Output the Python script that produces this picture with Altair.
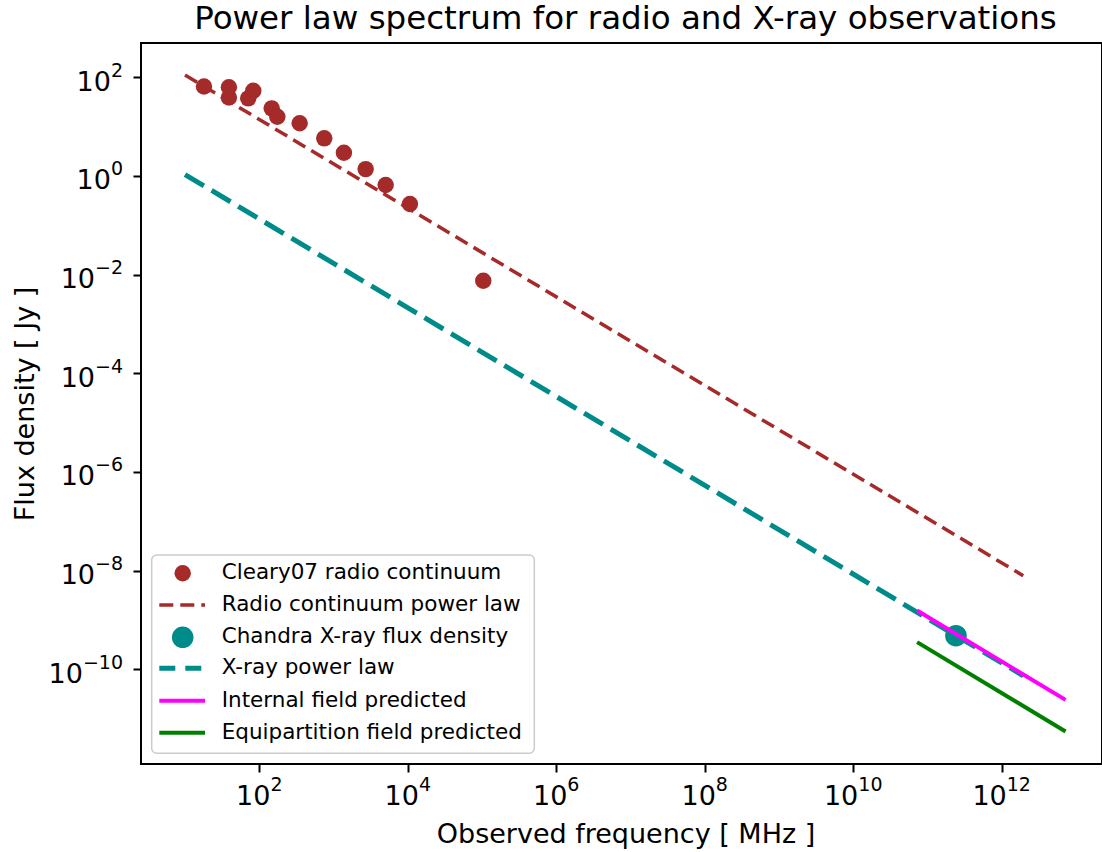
import altair as alt
import pandas as pd

# ---- data ----
radio_freq = [18, 39, 39, 83, 71, 147, 175, 350, 750, 1380, 2710, 5040, 10700, 104000]
radio_flux = [65, 63, 39, 53.5, 37.5, 23.5, 15.9, 11.7, 5.8, 2.96, 1.38, 0.656, 0.270, 0.0075]

radio_law_freq = [10, 1.95e12]
radio_law_flux = [111, 7.9e-9]

xray_law_freq = [10, 1.95e12]
xray_law_flux = [1.07, 7.4e-11]

band_freq = [7.25e10, 7.25e12]
internal_flux = [1.55e-9, 2.4e-11]
equip_flux = [3.55e-10, 5.5e-12]

chandra_freq = [2.42e11]
chandra_flux = [4.8e-10]

x_tick_exps = [2, 4, 6, 8, 10, 12]
y_tick_exps = [2, 0, -2, -4, -6, -8, -10]

title_text = "Power law spectrum for radio and X-ray observations"
x_title = "Observed frequency [ MHz ]"
y_title = "Flux density [ Jy ]"
legend_labels = [
    "Cleary07 radio continuum",
    "Radio continuum power law",
    "Chandra X-ray flux density",
    "X-ray power law",
    "Internal field predicted",
    "Equipartition field predicted",
]

FONT = "DejaVu Sans"
BROWN = "#a52a2a"
TEAL = "#008b8b"
MAGENTA = "#ff00ff"
GREEN = "#008000"

W, H = 961, 721
X_DOM = [10 ** 0.407, 10 ** 13.351]
Y_DOM = [10 ** -11.92, 10 ** 2.696]

BASE_FS = 27
EXP_FS = 19
BASE_W = 1.272 * BASE_FS          # advance of "10"
DIGIT_W = 0.636 * EXP_FS
MINUS_W = 0.838 * EXP_FS


def exp_str(e):
    return str(e).replace("-", "\u2212")


def exp_width(e):
    s = str(abs(e))
    return len(s) * DIGIT_W + (MINUS_W if e < 0 else 0)


xscale = alt.Scale(type="log", domain=X_DOM, nice=False)
yscale = alt.Scale(type="log", domain=Y_DOM, nice=False)

xaxis = alt.Axis(
    values=[10.0 ** e for e in x_tick_exps],
    labels=False,
    title=x_title,
    titleX=625.5 - 141,
    titleY=842 - 764,
    titleBaseline="alphabetic",
    titleAnchor="middle",
)
yaxis = alt.Axis(
    values=[10.0 ** e for e in y_tick_exps],
    labels=False,
    title=y_title,
    titleX=33 - 141,
    titleY=403.5 - 43,
    titleBaseline="alphabetic",
    titleAngle=270,
)

radio_df = pd.DataFrame({"freq": radio_freq, "flux": radio_flux})
radio_law_df = pd.DataFrame({"freq": radio_law_freq, "flux": radio_law_flux})
xray_law_df = pd.DataFrame({"freq": xray_law_freq, "flux": xray_law_flux})
internal_df = pd.DataFrame({"freq": band_freq, "flux": internal_flux})
equip_df = pd.DataFrame({"freq": band_freq, "flux": equip_flux})
chandra_df = pd.DataFrame({"freq": chandra_freq, "flux": chandra_flux})

enc = dict(
    x=alt.X("freq:Q", scale=xscale, axis=xaxis),
    y=alt.Y("flux:Q", scale=yscale, axis=yaxis),
)

radio_pts = alt.Chart(radio_df).mark_circle(size=270, color=BROWN, opacity=1).encode(**enc)
chandra_pt = alt.Chart(chandra_df).mark_circle(size=466, color=TEAL, opacity=1).encode(**enc)
radio_line = alt.Chart(radio_law_df).mark_line(
    color=BROWN, strokeWidth=3.5, strokeDash=[14, 7], strokeCap="butt"
).encode(**enc)
xray_line = alt.Chart(xray_law_df).mark_line(
    color=TEAL, strokeWidth=5, strokeDash=[22, 9], strokeCap="butt"
).encode(**enc)
internal_line = alt.Chart(internal_df).mark_line(color=MAGENTA, strokeWidth=4).encode(**enc)
equip_line = alt.Chart(equip_df).mark_line(color=GREEN, strokeWidth=4).encode(**enc)

# ---- tick labels "10" + raised exponent (matplotlib mathtext look) ----
tick_layers = []
for grp in sorted({len(str(e)) for e in x_tick_exps}):
    exps = [e for e in x_tick_exps if len(str(e)) == grp]
    df = pd.DataFrame({
        "freq": [10.0 ** e for e in exps],
        "base": ["10"] * len(exps),
        "exp": [exp_str(e) for e in exps],
    })
    ew = exp_width(exps[0])
    shift = (BASE_W - ew) / 2.0
    tick_layers.append(
        alt.Chart(df).mark_text(
            align="right", baseline="alphabetic", font=FONT, fontSize=BASE_FS,
            color="black", dx=shift
        ).encode(x=alt.X("freq:Q", scale=xscale, axis=xaxis), y=alt.value(762), text="base:N")
    )
    tick_layers.append(
        alt.Chart(df).mark_text(
            align="left", baseline="alphabetic", font=FONT, fontSize=EXP_FS,
            color="black", dx=shift
        ).encode(x=alt.X("freq:Q", scale=xscale, axis=xaxis), y=alt.value(748), text="exp:N")
    )

for key in sorted({len(exp_str(e)) for e in y_tick_exps}):
    exps = [e for e in y_tick_exps if len(exp_str(e)) == key]
    df = pd.DataFrame({
        "flux": [10.0 ** e for e in exps],
        "base": ["10"] * len(exps),
        "exp": [exp_str(e) for e in exps],
    })
    ew = exp_width(exps[0])
    tick_layers.append(
        alt.Chart(df).mark_text(
            align="right", baseline="alphabetic", font=FONT, fontSize=BASE_FS,
            color="black", dy=13.5
        ).encode(x=alt.value(-18 - ew), y=alt.Y("flux:Q", scale=yscale, axis=yaxis), text="base:N")
    )
    tick_layers.append(
        alt.Chart(df).mark_text(
            align="right", baseline="alphabetic", font=FONT, fontSize=EXP_FS,
            color="black", dy=-0.5
        ).encode(x=alt.value(-18), y=alt.Y("flux:Q", scale=yscale, axis=yaxis), text="exp:N")
    )

# ---- title as a text mark (pixel position relative to the plot area) ----
title_layer = alt.Chart(pd.DataFrame({"t": [title_text]})).mark_text(
    align="center", baseline="alphabetic", font=FONT, fontSize=32.5, color="black"
).encode(x=alt.value(625.5 - 141), y=alt.value(28.5 - 43), text="t:N")

# ---- manual legend (pixel positions inside the plot area) ----
row_y = [530.3, 562.0, 594.3, 625.3, 657.7, 689.7]
one = pd.DataFrame({"k": [0]})

legend_layers = [
    alt.Chart(one).mark_rect(
        fill="white", fillOpacity=0.8, stroke="#cccccc", strokeWidth=1.5, cornerRadius=5
    ).encode(x=alt.value(10.7), x2=alt.value(393.3), y=alt.value(512), y2=alt.value(710.3)),
    alt.Chart(one).mark_circle(size=270, color=BROWN, opacity=1).encode(
        x=alt.value(41.7), y=alt.value(row_y[0])
    ),
    alt.Chart(one).mark_rule(color=BROWN, strokeWidth=3.5, strokeDash=[14, 7]).encode(
        x=alt.value(18.3), x2=alt.value(64), y=alt.value(row_y[1])
    ),
    alt.Chart(one).mark_circle(size=466, color=TEAL, opacity=1).encode(
        x=alt.value(41.7), y=alt.value(row_y[2])
    ),
    alt.Chart(one).mark_rule(color=TEAL, strokeWidth=5, strokeDash=[16, 10]).encode(
        x=alt.value(18.3), x2=alt.value(64), y=alt.value(row_y[3])
    ),
    alt.Chart(one).mark_rule(color=MAGENTA, strokeWidth=4).encode(
        x=alt.value(18.3), x2=alt.value(64), y=alt.value(row_y[4])
    ),
    alt.Chart(one).mark_rule(color=GREEN, strokeWidth=4).encode(
        x=alt.value(18.3), x2=alt.value(64), y=alt.value(row_y[5])
    ),
]
for lab, yy in zip(legend_labels, row_y):
    legend_layers.append(
        alt.Chart(pd.DataFrame({"label": [lab]})).mark_text(
            align="left", baseline="middle", font=FONT, fontSize=21.5, color="black"
        ).encode(x=alt.value(80.7), y=alt.value(yy), text="label:N")
    )

chart = alt.layer(
    radio_pts, radio_line, chandra_pt, xray_line, internal_line, equip_line,
    *tick_layers, title_layer, *legend_layers
).properties(
    width=W,
    height=H,
    background="white",
    autosize=alt.AutoSizeParams(type="none"),
    padding={"left": 141, "top": 43, "right": 0, "bottom": 88},
).configure_view(
    stroke="black", strokeWidth=2
).configure_axis(
    grid=False,
    domain=False,
    ticks=True,
    tickColor="black",
    tickWidth=2,
    tickSize=8,
    titleFont=FONT,
    titleFontSize=27,
    titleFontWeight="normal",
    titleColor="black",
)

chart.save("out.html", embed_options={"renderer": "svg", "actions": False})
